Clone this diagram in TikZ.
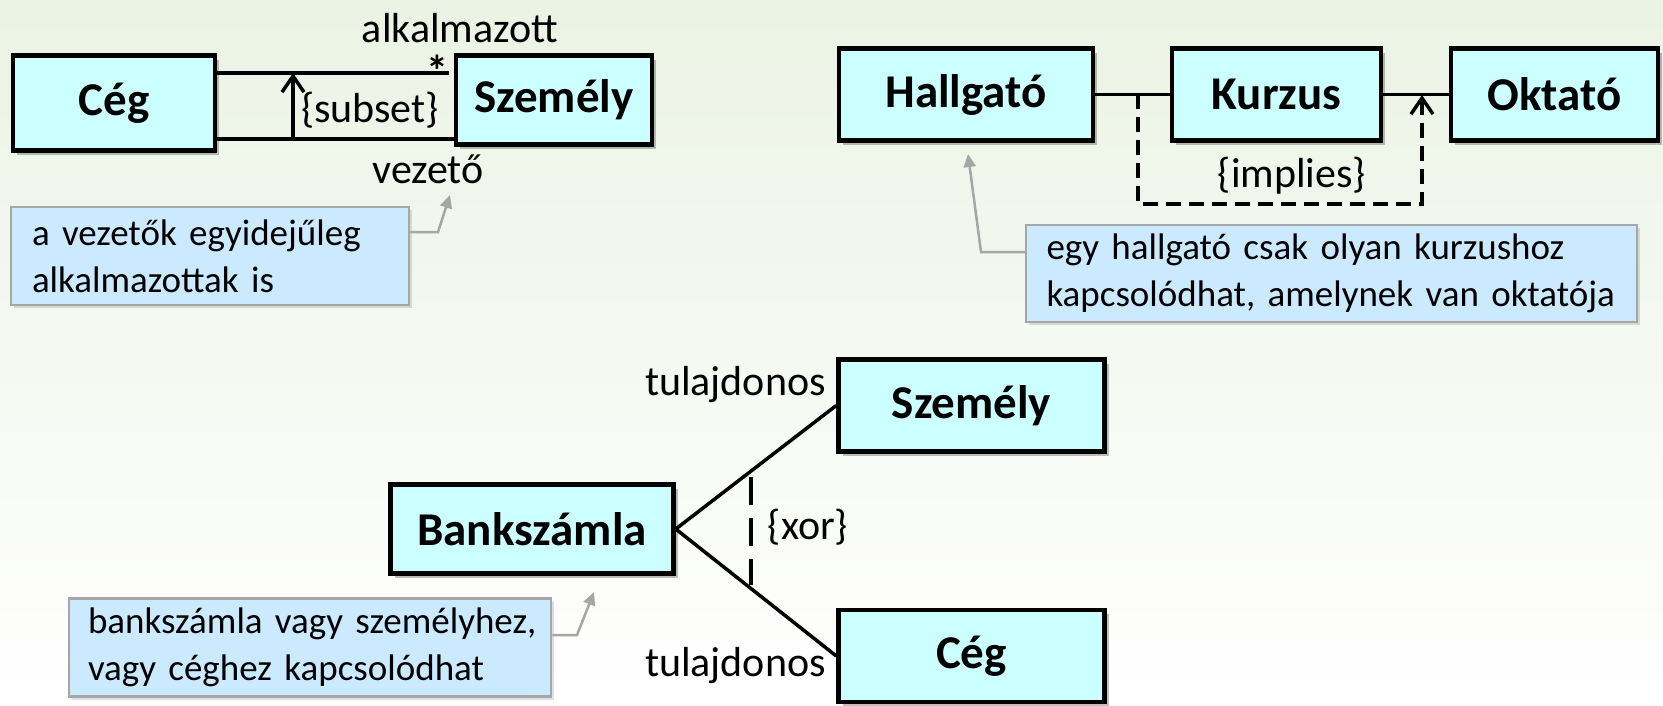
\documentclass[tikz,border=0pt]{standalone}
\usepackage{fontspec}
\setmainfont{Carlito}
\usetikzlibrary{arrows.meta,shadows}
\definecolor{clsfill}{RGB}{204,255,255}
\definecolor{notefill}{RGB}{204,234,255}
\definecolor{notedraw}{RGB}{166,166,166}
\definecolor{bgtop}{RGB}{235,243,228}
\begin{document}
\begin{tikzpicture}[x=1pt,y=-1pt,
  cls/.style={draw=black, line width=4.5pt, fill=clsfill, inner sep=0pt,
    font=\fontsize{47}{56}\selectfont\bfseries,
    drop shadow={shadow xshift=4pt,shadow yshift=-4pt,opacity=0.25,fill=black}},
  note/.style={draw=notedraw, line width=2.5pt, fill=notefill, inner ysep=0pt,
    font=\fontsize{37}{47}\selectfont, align=left,
    drop shadow={shadow xshift=3pt,shadow yshift=-3pt,opacity=0.12,fill=black}},
  lbl/.style={font=\fontsize{42}{50}\selectfont, inner sep=0pt},
  assoc/.style={line width=3.5pt, draw=black},
  noteline/.style={draw=notedraw, line width=2.5pt, -{Triangle[length=13pt,width=12pt]}},
  openhead/.style={-{Straight Barb[length=16pt,width=22pt]}},
  dashA/.style={dash pattern=on 15pt off 8pt},
  dashB/.style={dash pattern=on 28pt off 13pt}
]
\useasboundingbox (0,0) rectangle (1663,705);
\shade[top color=bgtop, bottom color=white] (0,0) rectangle (1663,705);

% ---------- top left ----------
\node[cls, minimum width=202pt, minimum height=95pt] (ceg1) at (114,103) {Cég};
\node[cls, minimum width=196pt, minimum height=89pt] (szem1) at (554,100) {Személy};
\coordinate (yu) at (0,73);
\coordinate (yl) at (0,139);
\draw[assoc] (ceg1.east |- yu) -- ([xshift=-5pt]szem1.west |- yu);
\draw[assoc] (ceg1.east |- yl) -- (szem1.west |- yl);
\coordinate (sa) at (293,139);
\coordinate (sb) at (293,73);
\draw[assoc, openhead] (sa) -- (sb);
\node[lbl] (subset) at (370,110) {\{subset\}};
\node[font=\fontsize{44}{50}\selectfont\bfseries, inner sep=0pt, anchor=north] (star) at (437,55) {*};
\node[lbl] (alk) at (460,28) {alkalmazott};
\node[lbl] (vez) at (428,169) {vezető};
\node[note, minimum width=398pt, minimum height=98pt, text width=356pt] (n1) at (210,256)
  {\mbox{a vezetők egyidejűleg}\\\mbox{alkalmazottak is}};
\coordinate (t1) at (450,195);
\draw[noteline] ([yshift=24pt]n1.east) -- (438,232) -- (t1);

% ---------- top right ----------
\node[cls, minimum width=254pt, minimum height=92pt] (hallg) at (966,94.5) {Hallgató};
\node[cls, minimum width=209pt, minimum height=92pt] (kurz) at (1276.5,94.5) {Kurzus};
\node[cls, minimum width=207pt, minimum height=92pt] (okt) at (1554.5,94.5) {Oktató};
\draw[assoc] (hallg) -- (kurz);
\draw[assoc] (kurz) -- (okt);
\coordinate (d1) at (1138,94);
\coordinate (d2) at (1422,95);
\draw[assoc, dashA, openhead] (d1) -- (d1 |- 0,204) -- (d2 |- 0,204) -- (d2);
\node[lbl] (impl) at (1292,176) {\{implies\}};
\node[note, minimum width=611pt, minimum height=97pt, text width=570pt] (n2) at (1331.5,273.5)
  {\mbox{egy hallgató csak olyan kurzushoz}\\\mbox{kapcsolódhat, amelynek van oktatója}};
\coordinate (t2) at (968,154);
\draw[noteline] ([yshift=21.5pt]n2.west) -- (981,252) -- (t2);

% ---------- bottom ----------
\node[cls, minimum width=283pt, minimum height=89pt] (bank) at (532,529) {Bankszámla};
\node[cls, minimum width=266pt, minimum height=92pt] (szem2) at (971.5,405.5) {Személy};
\node[cls, minimum width=266pt, minimum height=92pt] (ceg2) at (971.5,656) {Cég};
\draw[assoc] (bank.east) -- (szem2.west);
\draw[assoc] (bank.east) -- (ceg2.west);
\coordinate (x1) at (751,477);
\coordinate (x2) at (751,585);
\draw[assoc, dashB] (x1) -- (x2);
\node[lbl] (xor) at (808,527) {\{xor\}};
\node[lbl, anchor=east] (tul1) at (826,385) {tulajdonos};
\node[lbl, anchor=east] (tul2) at (826,666) {tulajdonos};
\node[note, minimum width=482pt, minimum height=98pt, text width=444pt] (n3) at (310,647.5)
  {\mbox{bankszámla vagy személyhez,}\\\mbox{vagy céghez kapcsolódhat}};
\coordinate (t3) at (594,592);
\draw[noteline] ([yshift=12.5pt]n3.east) -- (577,635) -- (t3);
\end{tikzpicture}
\end{document}
